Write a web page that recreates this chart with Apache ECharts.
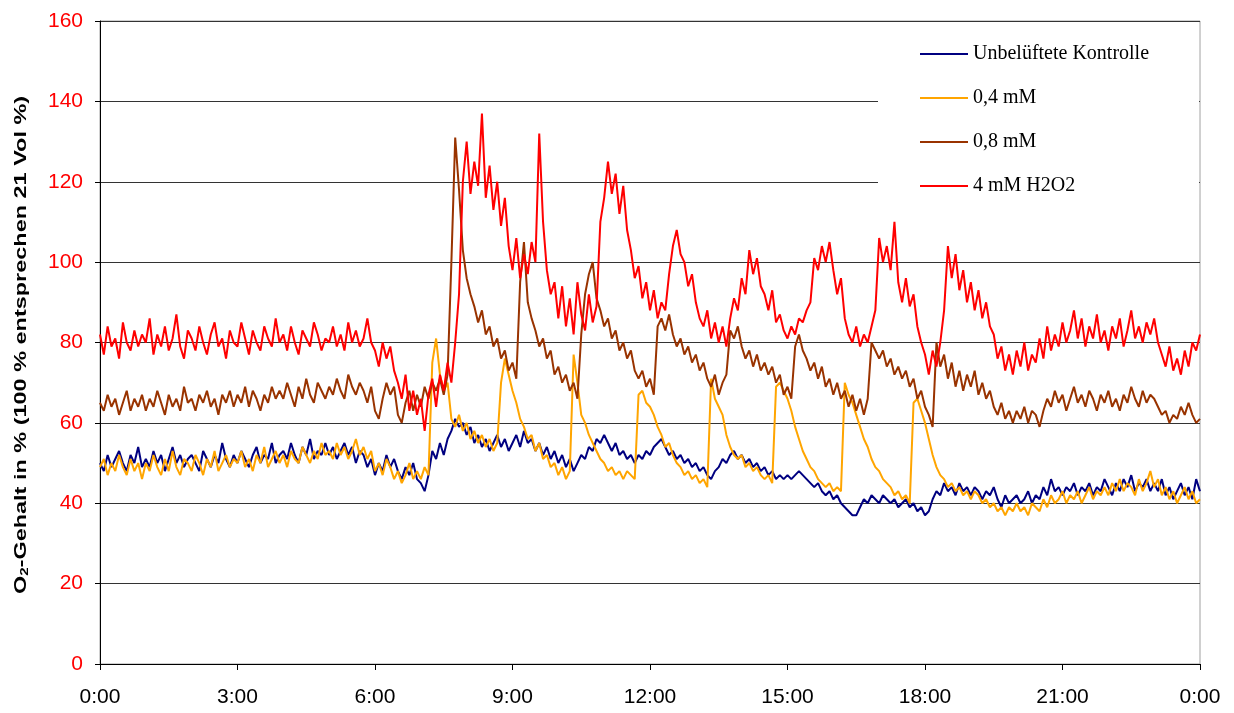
<!DOCTYPE html>
<html>
<head>
<meta charset="utf-8">
<title>O2-Gehalt</title>
<script src="https://cdn.jsdelivr.net/npm/echarts@6/dist/echarts.min.js"></script>
<style>
  html, body { margin: 0; padding: 0; background: #fff; }
  #chart { width: 1234px; height: 713px; }
</style>
</head>
<body>
<div id="chart"></div>
<script>
// Sampling step of the logged O2 readings, in minutes (00:00 .. 24:00)
const STEP_MIN = 5;

// x-axis tick labels, one every 3 hours
const timeLabels = ['0:00', '3:00', '6:00', '9:00', '12:00', '15:00', '18:00', '21:00', '0:00'];

// y-axis tick values
const yTicks = [0, 20, 40, 60, 80, 100, 120, 140, 160];

const seriesNames = ['Unbelüftete Kontrolle', '0,4 mM', '0,8 mM', '4 mM H2O2'];

// Unbelüftete Kontrolle (one row per hour, 5-min readings)
const control = [
  50,48,52,49,51,53,50,48,52,50,54,49,
  51,49,53,50,52,48,51,54,50,52,49,51,
  52,50,48,53,51,49,52,50,55,51,49,52,
  50,53,51,49,52,54,50,52,51,55,50,52,
  53,51,55,52,50,54,52,56,51,53,52,55,
  52,54,51,53,55,52,54,50,53,52,49,51,
  47,50,48,52,49,51,48,46,49,47,50,46,
  45,43,47,53,51,55,52,56,58,61,59,60,
  57,59,55,57,54,56,53,55,57,54,56,53,
  55,57,54,58,55,56,53,55,52,54,51,53,
  50,52,49,51,48,50,52,51,54,53,56,55,
  57,55,53,55,52,53,51,52,50,52,51,53,
  52,54,55,56,54,52,53,51,52,50,51,49,
  50,48,49,47,46,48,49,51,50,52,53,51,
  52,50,51,49,50,48,49,47,48,46,47,46,
  47,46,47,48,47,46,45,44,45,43,42,43,
  41,42,40,39,38,37,37,39,41,40,42,41,
  40,42,41,40,41,39,40,41,39,40,38,39,
  37,38,41,43,42,45,43,44,42,45,43,44,
  42,44,43,41,43,42,44,41,39,42,40,41,
  42,40,41,43,40,42,41,44,42,46,43,44,
  42,44,43,45,42,44,43,45,42,44,43,46,
  44,42,45,43,46,44,47,43,45,44,46,43,
  45,43,46,42,44,41,43,45,42,44,41,46,
  43
];

// 0,4 mM
const dose04 = [
  49,51,47,50,48,52,49,47,51,48,50,46,
  50,48,52,49,47,51,48,53,49,47,51,50,
  48,52,50,47,51,49,53,48,50,52,49,51,
  50,53,49,51,48,52,50,54,49,51,53,50,
  52,49,53,51,50,54,52,50,53,51,55,52,
  53,51,55,52,54,51,53,56,52,54,51,53,
  48,50,47,51,49,46,48,45,47,50,46,48,
  46,49,47,75,81,72,68,70,61,59,62,58,
  60,56,58,55,57,54,56,53,55,70,76,72,
  68,65,61,59,56,57,53,55,51,52,49,50,
  47,49,46,48,77,70,62,60,57,55,53,51,
  50,48,49,47,48,46,48,47,46,67,68,65,
  64,62,59,57,54,55,52,50,49,47,48,46,
  47,45,46,44,71,66,64,62,57,54,52,51,
  52,49,50,48,49,47,46,47,45,69,70,68,
  66,63,59,56,53,51,49,48,46,45,44,45,
  43,44,43,70,67,65,62,59,56,54,51,49,
  48,46,45,44,42,43,41,42,40,65,66,63,
  60,56,52,49,47,46,44,45,43,44,42,43,
  41,43,42,40,41,39,40,38,39,37,39,38,
  40,38,39,37,40,39,38,41,39,42,40,41,
  43,40,42,41,43,40,42,44,41,43,42,44,
  42,45,43,46,43,45,44,42,46,43,45,48,
  44,46,42,44,41,43,40,42,44,41,43,40,
  41
];

// 0,8 mM
const dose08 = [
  65,63,67,64,66,62,65,68,63,66,64,67,
  63,66,64,68,65,62,67,64,66,63,69,65,
  66,63,67,65,68,64,66,62,67,65,68,64,
  67,65,69,64,68,66,63,67,65,69,66,68,
  66,70,67,64,69,66,71,67,65,70,68,66,
  69,67,71,68,66,72,69,67,70,68,65,69,
  63,61,66,70,67,69,62,60,65,68,63,67,
  64,69,66,70,68,71,67,72,100,131,118,103,
  96,92,89,85,88,82,84,79,81,76,78,73,
  75,71,95,105,90,86,83,79,81,76,78,72,
  74,70,72,68,70,66,82,92,97,100,91,88,
  84,86,81,83,78,80,76,78,73,71,73,69,
  71,67,84,86,83,87,82,79,81,77,79,75,
  77,73,75,71,69,72,67,70,72,83,81,84,
  79,76,78,74,77,73,75,72,74,70,72,67,
  69,66,79,82,78,76,73,75,71,74,69,71,
  67,70,66,68,64,67,63,66,62,66,80,78,
  76,78,74,76,72,74,71,73,69,71,66,68,
  64,62,59,80,74,77,71,75,69,73,68,72,
  69,73,67,70,66,68,64,62,65,61,63,60,
  63,61,64,60,63,62,59,63,66,64,68,65,
  67,63,66,69,65,67,64,68,66,63,67,65,
  68,64,66,63,67,65,69,66,64,68,65,67,
  66,64,62,63,60,62,61,64,62,65,62,60,
  61
];

// 4 mM H2O2
const h2o2 = [
  82,77,84,79,81,76,85,80,78,83,79,82,
  80,86,77,82,79,84,78,81,87,79,76,83,
  81,78,84,80,77,82,85,79,81,76,83,80,
  79,85,81,77,83,80,78,84,81,79,86,80,
  82,78,84,80,77,83,81,79,85,82,78,81,
  80,84,79,82,78,85,80,83,79,81,86,80,
  78,74,80,76,79,73,70,66,72,63,68,62,
  66,58,67,71,64,72,68,75,70,80,92,120,
  130,117,125,119,137,116,124,113,120,109,116,104,
  98,106,96,102,97,105,100,132,110,98,92,95,
  86,94,84,91,82,95,87,83,92,85,89,110,
  116,125,117,122,112,119,108,103,96,99,91,95,
  88,93,86,90,88,97,104,108,102,100,94,97,
  90,86,84,88,81,85,80,84,79,86,91,88,
  96,92,103,97,101,94,92,88,93,85,87,83,
  81,84,82,86,85,88,90,101,98,104,100,105,
  98,92,96,86,82,80,84,79,82,80,84,88,
  106,100,104,98,110,95,90,96,89,92,84,80,
  77,72,78,74,80,88,104,96,102,93,98,90,
  95,88,93,86,90,84,82,76,79,73,77,72,
  78,74,80,73,77,75,81,76,84,78,82,79,
  85,80,83,88,81,86,79,84,81,87,80,83,
  78,84,81,86,79,83,88,81,84,80,85,82,
  86,80,77,74,79,73,76,72,78,74,80,78,
  82
];

const lineColors = ['#000080', '#FFA500', '#993300', '#FF0000'];

// pair every reading with its time of day in minutes
function withTime(values) {
  return values.map((v, i) => [i * STEP_MIN, v]);
}

const allValues = [control, dose04, dose08, h2o2];

const chart = echarts.init(document.getElementById('chart'), null, { renderer: 'canvas' });

const axisFont = 'Liberation Sans, Arial, sans-serif';

chart.setOption({
  animation: false,
  backgroundColor: '#ffffff',
  grid: {
    left: 100, right: 34, top: 21, bottom: 49,
    containLabel: false,
    show: true,
    borderColor: '#a0a0a0',
    borderWidth: 1,
    backgroundColor: 'transparent'
  },
  legend: {
    orient: 'vertical',
    left: 878,
    top: 24,
    padding: [20, 50, 8, 42],
    backgroundColor: '#ffffff',
    itemGap: 24,
    itemWidth: 48,
    itemHeight: 2,
    icon: 'rect',
    selectedMode: false,
    data: seriesNames,
    textStyle: {
      fontFamily: 'Liberation Serif, Times New Roman, serif',
      fontSize: 20,
      lineHeight: 20,
      color: '#000'
    }
  },
  xAxis: {
    type: 'value',
    min: 0,
    max: 1440,
    interval: 180,
    axisLine: { show: true, onZero: false, lineStyle: { color: '#000', width: 1 } },
    axisTick: { show: true, inside: false, length: 6, lineStyle: { color: '#000' } },
    splitLine: { show: false },
    axisLabel: {
      margin: 23,
      color: '#000',
      fontFamily: axisFont,
      fontSize: 21,
      formatter: v => timeLabels[Math.round(v / 180)]
    }
  },
  yAxis: {
    type: 'value',
    min: yTicks[0],
    max: yTicks[yTicks.length - 1],
    interval: 20,
    axisLine: { show: true, lineStyle: { color: '#000', width: 1 } },
    axisTick: { show: true, inside: false, length: 5, lineStyle: { color: '#000' } },
    splitLine: { show: true, lineStyle: { color: '#333333', width: 1 } },
    axisLabel: {
      margin: 17,
      color: '#FF0000',
      fontFamily: axisFont,
      fontSize: 21
    }
  },
  graphic: [{
    type: 'text',
    x: 20,
    y: 345,
    rotation: Math.PI / 2,
    scaleX: 1.38,
    style: {
      text: '{b|O}{s|2}{b|-Gehalt in % (100 % entsprechen 21 Vol %)}',
      align: 'center',
      verticalAlign: 'middle',
      fill: '#000',
      rich: {
        b: { fontFamily: axisFont, fontWeight: 'bold', fontSize: 17, lineHeight: 20, verticalAlign: 'bottom', fill: '#000' },
        s: { fontFamily: axisFont, fontWeight: 'bold', fontSize: 11, lineHeight: 11, verticalAlign: 'bottom', fill: '#000' }
      }
    }
  }],
  series: seriesNames.map((name, k) => ({
    name: name,
    type: 'line',
    data: withTime(allValues[k]),
    showSymbol: false,
    symbol: 'none',
    smooth: false,
    color: lineColors[k],
    itemStyle: { color: lineColors[k] },
    lineStyle: { color: lineColors[k], width: 2 },
    emphasis: { disabled: true }
  }))
});
</script>
</body>
</html>
